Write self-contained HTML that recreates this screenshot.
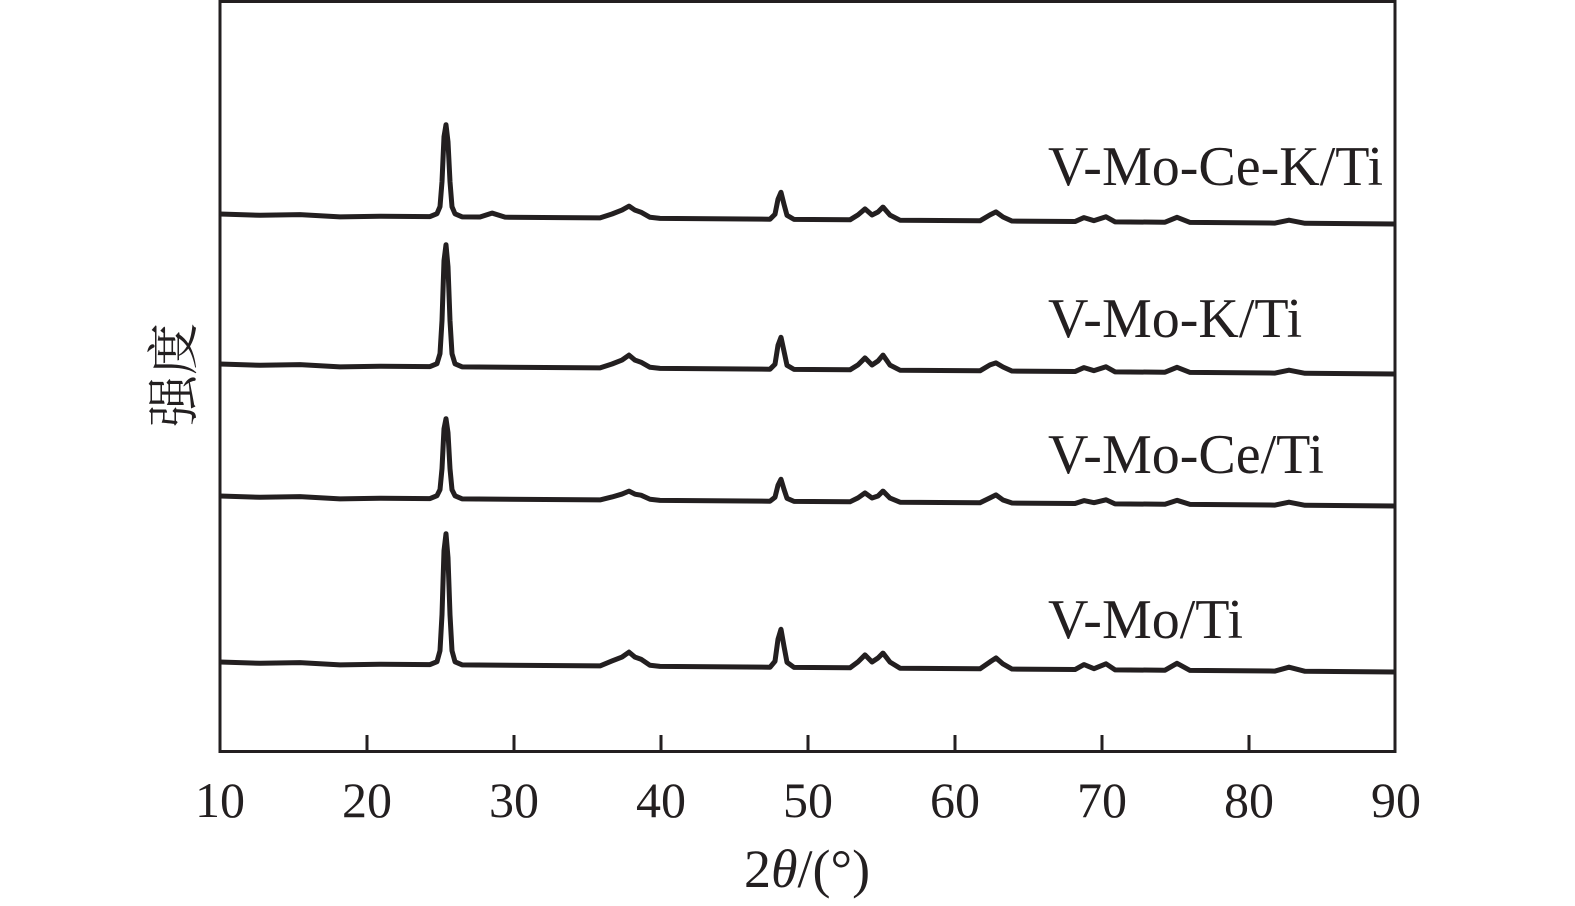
<!DOCTYPE html>
<html><head><meta charset="utf-8"><style>
html,body{margin:0;padding:0;background:#fff;}
svg{display:block;}
text{font-family:"Liberation Serif","Noto Serif CJK SC",serif;fill:#231f20;}
</style></head><body>
<svg width="1575" height="906" viewBox="0 0 1575 906" xmlns="http://www.w3.org/2000/svg">
<rect x="220" y="1.5" width="1175" height="750" fill="none" stroke="#231f20" stroke-width="3"/>
<g stroke="#231f20" stroke-width="3">
<line x1="367" y1="751" x2="367" y2="735"/><line x1="514" y1="751" x2="514" y2="735"/>
<line x1="661" y1="751" x2="661" y2="735"/><line x1="808" y1="751" x2="808" y2="735"/>
<line x1="955" y1="751" x2="955" y2="735"/><line x1="1102" y1="751" x2="1102" y2="735"/>
<line x1="1249" y1="751" x2="1249" y2="735"/>
</g>
<g font-size="50" text-anchor="middle">
<text x="220" y="817">10</text><text x="367" y="817">20</text><text x="514" y="817">30</text>
<text x="661" y="817">40</text><text x="808" y="817">50</text><text x="955" y="817">60</text>
<text x="1102" y="817">70</text><text x="1249" y="817">80</text><text x="1396" y="817">90</text>
</g>
<text x="807" y="887" font-size="54" text-anchor="middle">2<tspan font-style="italic">θ</tspan>/(°)</text>
<text transform="translate(192,375) rotate(-90)" font-size="52" text-anchor="middle">强度</text>
<g font-size="56">
<text x="1048" y="185">V-Mo-Ce-K/Ti</text>
<text x="1048" y="337">V-Mo-K/Ti</text>
<text x="1048" y="473">V-Mo-Ce/Ti</text>
<text x="1048" y="638">V-Mo/Ti</text>
</g>
<g fill="none" stroke="#231f20" stroke-width="5" stroke-linejoin="round">
<path transform="matrix(1,0.00766,0,1,0,213.3)" d="M220,-1 L260,0 L300,-1 L340,1 L380,0 L430,0 L437,-3 L440,-10 L442,-35 L444,-80 L446,-92 L448,-75 L450,-35 L452,-10 L455,-3 L462,0 L480,0 L492,-4 L505,0 L560,0 L600,0 L612,-4 L622,-8 L629,-12 L635,-8 L641,-6 L650,-1 L660,0 L770,0 L775,-5 L778,-20 L781,-27 L784,-15 L787,-4 L794,0 L850,0 L858,-5 L865,-11 L872,-5 L878,-8 L883,-13 L890,-5 L900,0 L980,0 L990,-6 L996,-9 L1003,-4 L1012,0 L1075,0 L1084,-4 L1094,-1 L1106,-5 L1115,0 L1165,0 L1177,-5 L1190,0 L1275,0 L1289,-3 L1305,0 L1395,0"/>
<path transform="matrix(1,0.00766,0,1,0,363.3)" d="M220,-1 L260,0 L300,-1 L340,1 L380,0 L430,0 L437,-3 L440,-13 L442,-46 L444,-106 L446,-122 L448,-100 L450,-46 L452,-13 L455,-3 L462,0 L600,0 L612,-4 L622,-8 L629,-13 L635,-8 L641,-6 L650,-1 L660,0 L770,0 L775,-5 L778,-24 L781,-32 L784,-18 L787,-4 L794,0 L850,0 L858,-5 L865,-12 L872,-5 L878,-9 L883,-15 L890,-5 L900,0 L980,0 L990,-6 L996,-8 L1003,-4 L1012,0 L1075,0 L1084,-4 L1094,-1 L1106,-5 L1115,0 L1165,0 L1177,-5 L1190,0 L1275,0 L1289,-3 L1305,0 L1395,0"/>
<path transform="matrix(1,0.00766,0,1,0,495.3)" d="M220,-1 L260,0 L300,-1 L340,1 L380,0 L430,0 L437,-3 L440,-9 L442,-30 L444,-70 L446,-80 L448,-66 L450,-30 L452,-9 L455,-3 L462,0 L600,0 L612,-3 L622,-6 L629,-9 L635,-6 L641,-5 L650,-1 L660,0 L770,0 L775,-4 L778,-16 L781,-22 L784,-12 L787,-3 L794,0 L850,0 L858,-4 L865,-9 L872,-4 L878,-6 L883,-11 L890,-4 L900,0 L980,0 L990,-5 L996,-8 L1003,-3 L1012,0 L1075,0 L1084,-3 L1094,-1 L1106,-4 L1115,0 L1165,0 L1177,-4 L1190,0 L1275,0 L1289,-3 L1305,0 L1395,0"/>
<path transform="matrix(1,0.00766,0,1,0,661.3)" d="M220,-1 L260,0 L300,-1 L340,1 L380,0 L430,0 L437,-3 L440,-14 L442,-50 L444,-114 L446,-131 L448,-107 L450,-50 L452,-14 L455,-3 L462,0 L600,0 L612,-5 L622,-9 L629,-14 L635,-9 L641,-7 L650,-1 L660,0 L770,0 L775,-6 L778,-28 L781,-38 L784,-21 L787,-5 L794,0 L850,0 L858,-6 L865,-13 L872,-6 L878,-10 L883,-15 L890,-6 L900,0 L980,0 L990,-7 L996,-11 L1003,-5 L1012,0 L1075,0 L1084,-5 L1094,-1 L1106,-6 L1115,0 L1165,0 L1177,-7 L1190,0 L1275,0 L1289,-4 L1305,0 L1395,0"/>
</g>
</svg>
</body></html>
